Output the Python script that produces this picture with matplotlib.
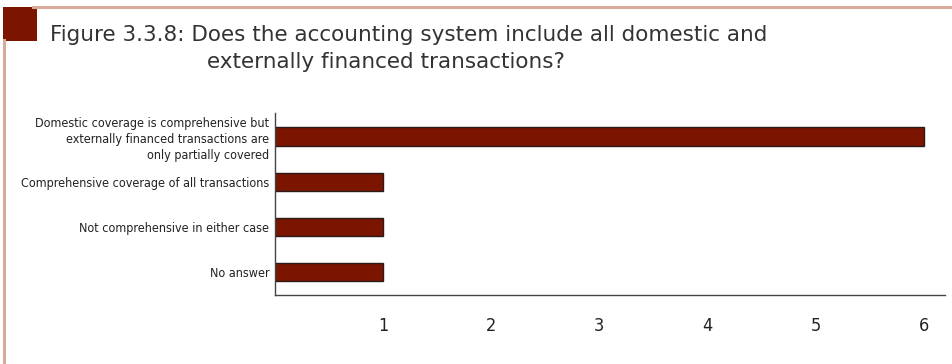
import matplotlib.pyplot as plt
from matplotlib.patches import Rectangle
from matplotlib.lines import Line2D

categories = [
    "Domestic coverage is comprehensive but\nexternally financed transactions are\nonly partially covered",
    "Comprehensive coverage of all transactions",
    "Not comprehensive in either case",
    "No answer",
]
values = [6, 1, 1, 1]
xticks = [1, 2, 3, 4, 5, 6]

fig = plt.figure(figsize=(9.52, 3.64), dpi=100)

# frame decoration
fig.add_artist(Line2D([0.004, 0.004], [0.0, 0.89], transform=fig.transFigure,
                      color="#d9ab9c", lw=2.2))
fig.add_artist(Line2D([0.035, 1.0], [0.981, 0.981], transform=fig.transFigure,
                      color="#d9ab9c", lw=2.2))
fig.add_artist(Rectangle((0.003, 0.887), 0.036, 0.095, transform=fig.transFigure,
                         color="#7b1500", lw=0))

fig.text(0.0525, 0.887, "Figure 3.3.8: Does the accounting system include all domestic and",
         fontsize=15.5, color="#333333", family="DejaVu Sans", va="baseline")
fig.text(0.2175, 0.813, "externally financed transactions?",
         fontsize=15.5, color="#333333", family="DejaVu Sans", va="baseline")

ax = fig.add_axes([0.2889, 0.1896, 0.704, 0.5])
pos = list(range(len(categories)))
ax.barh(pos, values, height=0.4, color="#7b1500", edgecolor="#2b1a18", linewidth=1.0)
ax.set_ylim(len(categories) - 0.5, -0.52)
ax.set_xlim(0, 6.2)
ax.set_yticks(pos)
ax.set_yticklabels(categories, fontsize=9, family="DejaVu Sans", stretch="condensed",
                   color="#222222", linespacing=1.3)
ax.set_xticks(xticks)
ax.set_xticklabels([str(t) for t in xticks], fontsize=13, family="DejaVu Sans",
                   stretch="condensed", color="#222222")
ax.tick_params(axis="both", length=0)
ax.tick_params(axis="x", pad=16)
ax.tick_params(axis="y", pad=4)
for s in ["top", "right"]:
    ax.spines[s].set_visible(False)
for s in ["left", "bottom"]:
    ax.spines[s].set_color("#444444")
    ax.spines[s].set_linewidth(1.0)

fig.savefig("out.png", dpi=100)
